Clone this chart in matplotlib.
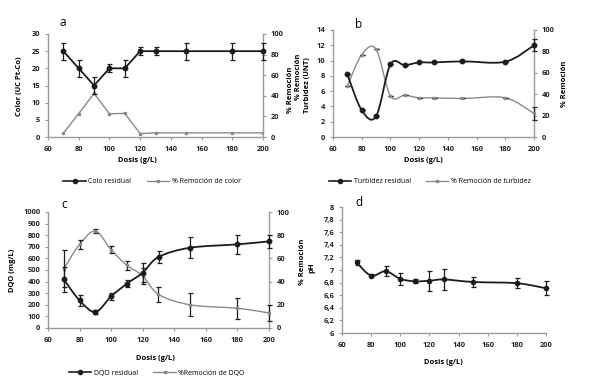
import numpy as np
import matplotlib
matplotlib.use("Agg")
import matplotlib.pyplot as plt
from matplotlib.path import Path
from matplotlib.patches import PathPatch
from matplotlib.lines import Line2D

# ---------------- data ----------------
dosis = [70, 80, 90, 100, 110, 120, 130, 150, 180, 200]

color_res = [25, 20, 15, 20, 20, 25, 25, 25, 25, 25]
color_res_err = [2.5, 2.5, 2.5, 1.2, 2.5, 1.2, 1.2, 2.5, 2.5, 2.5]
color_rem = [3.6, 22.8, 42.3, 22.5, 23, 3.3, 4, 4, 4, 4]

turb_res = [8.2, 3.5, 2.7, 9.5, 9.4, 9.75, 9.75, 9.9, 9.85, 12.0]
turb_res_err = [0, 0, 0, 0, 0, 0, 0, 0, 0, 0.8]
turb_rem = [47.5, 77, 82, 38.4, 39, 36.6, 36.6, 36, 36.6, 22]
turb_rem_err = [0, 0, 0, 0, 0, 0, 0, 0, 0, 6]

dqo_res = [419, 238, 138, 273, 382, 477, 612, 692, 721, 747]
dqo_res_err = [105, 45, 20, 30, 30, 80, 50, 90, 80, 55]
dqo_rem = [51, 72, 83.5, 67.5, 54, 45, 29, 20, 17, 13]
dqo_rem_err = [16, 4, 2, 3, 4, 7, 6.5, 10, 9, 7]

ph = [7.12, 6.91, 6.98, 6.86, 6.82, 6.83, 6.85, 6.81, 6.79, 6.71]
ph_err = [0.04, 0.02, 0.08, 0.1, 0.03, 0.16, 0.17, 0.08, 0.08, 0.11]

xticks = [60, 80, 100, 120, 140, 160, 180, 200]

# ---------------- style ----------------
BLK = "#1c1c1c"
GRY = "#8a8a8a"
SPN = "#9a9a9a"
FS = 5.4
plt.rcParams['font.family'] = ['Open Sans', 'DejaVu Sans']
plt.rcParams['font.weight'] = 'bold'

fig = plt.figure(figsize=(5.89, 3.8), dpi=100)


def fx(px):
    return px / 589


def fy(py):
    return 1 - py / 380


def smooth(ax, x, y, color, lw):
    x = np.asarray(x, float); y = np.asarray(y, float)
    n = len(x)
    verts = [(x[0], y[0])]
    codes = [Path.MOVETO]
    for i in range(n - 1):
        x0, y0 = (x[i - 1], y[i - 1]) if i > 0 else (x[i], y[i])
        x3, y3 = (x[i + 2], y[i + 2]) if i + 2 < n else (x[i + 1], y[i + 1])
        c1 = (x[i] + (x[i + 1] - x0) / 6, y[i] + (y[i + 1] - y0) / 6)
        c2 = (x[i + 1] - (x3 - x[i]) / 6, y[i + 1] - (y3 - y[i]) / 6)
        verts += [c1, c2, (x[i + 1], y[i + 1])]
        codes += [Path.CURVE4] * 3
    ax.add_patch(PathPatch(Path(verts, codes), fc='none', ec=color, lw=lw, zorder=3))


def ebar(ax, x, y, err, color, marker, ms, ls='none', lw=1.3, ecolor=BLK):
    cont = ax.errorbar(x, y, yerr=err, color=color, ls=ls, lw=lw, marker=marker,
                       ms=ms, capsize=1.8, elinewidth=0.9, capthick=0.9,
                       ecolor=ecolor, zorder=4)
    for art in cont.get_children():
        art.set_clip_on(False)


def style(ax, left=True, right=False):
    ax.spines['top'].set_visible(False)
    ax.spines['right'].set_visible(right)
    ax.spines['left'].set_visible(left)
    for s in ['left', 'right', 'bottom']:
        ax.spines[s].set_color(SPN)
        ax.spines[s].set_linewidth(1.0)
    ax.tick_params(axis='both', labelsize=FS, colors=SPN, labelcolor='#222222',
                   length=2.5, width=0.8, direction='out', pad=3)
    ax.tick_params(axis='x', pad=4)
    for lab in ax.get_xticklabels() + ax.get_yticklabels():
        lab.set_fontweight('bold')
    ax.set_xlim(60, 200)
    ax.set_xticks(xticks)


def twin(ax, top):
    t = ax.twinx()
    style(t, left=False, right=True)
    t.spines['bottom'].set_visible(False)
    t.set_ylim(0, top)
    t.set_yticks(np.arange(0, top + 1, 20))
    return t


def legend(labels, xc, yc):
    h = [Line2D([], [], color=BLK, lw=1.2, marker='o', ms=3),
         Line2D([], [], color=GRY, lw=1.0, marker='s', ms=1.6)]
    fig.legend(h, labels, loc='center', bbox_to_anchor=(fx(xc), fy(yc)),
               ncol=2, frameon=False, handlelength=3.2,
               columnspacing=2.2, handletextpad=0.4,
               prop={'size': 5.0, 'weight': 'normal', 'family': ['Open Sans']})


def ax_at(l, r, t, b):
    return fig.add_axes([fx(l), fy(b), (r - l) / 589, (b - t) / 380])


def ylab(text, px, py, **kw):
    fig.text(fx(px), fy(py), text, rotation=90, ha='center', va='center',
             fontsize=FS, fontweight='bold', **kw)


def xlab(px, py):
    fig.text(fx(px), fy(py), 'Dosis (g/L)', ha='center', va='center',
             fontsize=FS, fontweight='bold')

# ---------------- panel a ----------------
ax = ax_at(48, 263, 34, 137)
style(ax)
ax.set_ylim(0, 30)
ax.set_yticks(range(0, 31, 5))
axr = twin(ax, 100)
axr.plot(dosis, color_rem, color=GRY, lw=1.0, marker='s', ms=1.8, zorder=2)
ebar(ax, dosis, color_res, color_res_err, BLK, 'o', 3.2, ls='-')
ax.set_zorder(axr.get_zorder() + 1); ax.patch.set_visible(False)
ylab('Color (UC Pt-Co)', 19, 86)
ylab('% Remoción', 291, 90)
xlab(137, 161)
fig.text(fx(60), fy(23), 'a', fontsize=8.5, fontweight='normal', va='center')
legend(['Colo residual', '% Remoción de color'], 152, 182)

# ---------------- panel b ----------------
ax = ax_at(333, 534, 30, 137)
style(ax)
ax.set_ylim(0, 14)
ax.set_yticks(range(0, 15, 2))
axr = twin(ax, 100)
smooth(axr, dosis, turb_rem, GRY, 1.0)
ebar(axr, dosis, turb_rem, turb_rem_err, GRY, 's', 1.8)
smooth(ax, dosis, turb_res, BLK, 1.3)
ebar(ax, dosis, turb_res, turb_res_err, BLK, 'o', 3.2)
ax.set_zorder(axr.get_zorder() + 1); ax.patch.set_visible(False)
ylab('% Remoción', 298, 77)
ylab('Turbidez (UNT)', 307, 85)
ylab('% Remoción', 564, 84)
xlab(423, 161)
fig.text(fx(355), fy(24), 'b', fontsize=8.5, fontweight='normal', va='center')
legend(['Turbidez residual', '% Remoción de turbidez'], 430, 182)

# ---------------- panel c ----------------
ax = ax_at(48, 269, 212, 328)
style(ax)
ax.set_ylim(0, 1000)
ax.set_yticks(range(0, 1001, 100))
axr = twin(ax, 100)
smooth(axr, dosis, dqo_rem, GRY, 1.0)
ebar(axr, dosis, dqo_rem, dqo_rem_err, GRY, 's', 1.8)
smooth(ax, dosis, dqo_res, BLK, 1.3)
ebar(ax, dosis, dqo_res, dqo_res_err, BLK, 'o', 3.2)
ax.set_zorder(axr.get_zorder() + 1); ax.patch.set_visible(False)
ylab('DQO (mg/L)', 13, 270)
xlab(155, 358)
fig.text(fx(61), fy(204), 'c', fontsize=8.5, fontweight='normal', va='center')
legend(['DQO residual', '%Remoción de DQO'], 157, 373)

# ---------------- panel d ----------------
ax = ax_at(342, 546, 207, 333)
style(ax)
ax.set_ylim(6, 8)
ax.set_yticks(np.arange(6, 8.01, 0.2))
ax.set_yticklabels(['6', '6,2', '6,4', '6,6', '6,8', '7', '7,2', '7,4', '7,6', '7,8', '8'])
for lab in ax.get_yticklabels():
    lab.set_fontweight('bold')
smooth(ax, dosis, ph, BLK, 1.3)
ebar(ax, dosis, ph, ph_err, BLK, 'o', 3.0)
ylab('% Remoción', 303, 262)
ylab('pH', 312, 268)
xlab(443, 363)
fig.text(fx(355), fy(203), 'd', fontsize=8.5, fontweight='normal', va='center')

fig.savefig('out.png', dpi=100)
